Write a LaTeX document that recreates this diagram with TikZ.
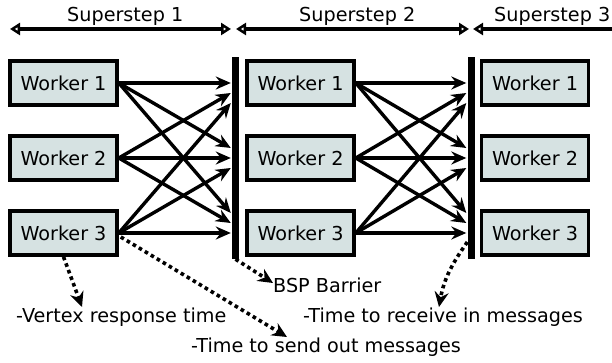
\documentclass[tikz,border=0pt]{standalone}
\usepackage{fontspec}
\setmainfont{DejaVu Sans}
\usetikzlibrary{arrows.meta,calc}
\definecolor{boxfill}{RGB}{214,226,226}
\begin{document}
\begin{tikzpicture}[x=1pt,y=1pt,
  worker/.style={draw=black, line width=3.6pt, fill=boxfill, minimum width=107pt, minimum height=44pt, inner sep=0pt, font=\fontsize{19.2}{23}\selectfont},
  barrier/.style={fill=black, minimum width=7pt, minimum height=202pt, inner sep=0pt},
  msg/.style={line width=3.4pt, -{Stealth[length=15pt,width=13pt,inset=5pt]}},
  ss/.style={line width=3.4pt, {Triangle[open,length=10pt,width=12pt]}-{Triangle[open,length=10pt,width=12pt]}},
  ssl/.style={line width=3.4pt, {Triangle[open,length=10pt,width=12pt]}-},
  lbl/.style={font=\fontsize{19.2}{23}\selectfont, inner sep=0pt, anchor=base west},
  dots/.style={line width=3.6pt, dash pattern=on 3.6pt off 3.4pt, -{Stealth[length=15pt,width=14pt,inset=5pt]}}
]
\useasboundingbox (0,0) rectangle (612,363);
% superstep arrows
\coordinate (s1a) at (10,334);
\coordinate (s1b) at (231,334);
\coordinate (s2a) at (236,334);
\coordinate (s2b) at (469,334);
\coordinate (s3a) at (473,334);
\coordinate (s3b) at (616,334);
\draw[ss] (s1a) -- (s1b);
\draw[ss] (s2a) -- (s2b);
\draw[ssl] (s3a) -- (s3b);
\node[lbl] (l1) at (67,341) {Superstep 1};
\node[lbl] (l2) at (299,341) {Superstep 2};
\node[lbl] (l3) at (494,341) {Superstep 3};
% workers
\foreach \r/\yy in {1/280,2/205,3/130}{
  \node[worker] (w\r1) at (63.5,\yy) {Worker \r};
  \node[worker] (w\r2) at (300.5,\yy) {Worker \r};
  \node[worker] (w\r3) at (535,\yy) {Worker \r};
}
% barriers
\node[barrier] (b1) at (235.5,205) {};
\node[barrier] (b2) at (471,205) {};
% messages
\foreach \s in {1,2,3}{
  \foreach \r in {1,2,3}{
    \draw[msg] (w\s1.east) -- ($(b1.west |- w\r1.east)+(-1,{(\r-\s)*10})$);
    \draw[msg] (w\s2.east) -- ($(b2.west |- w\r2.east)+(-1,{(\r-\s)*10})$);
  }
}
% bottom labels
\node[lbl] (t1) at (16,40) {-Vertex response time};
\node[lbl] (t2) at (191,10) {-Time to send out messages};
\node[lbl] (t3) at (303,40) {-Time to receive in messages};
\node[lbl] (t4) at (273,70) {BSP Barrier};
\coordinate (e1) at (82,56);
\coordinate (e2) at (287,26);
\coordinate (e3) at (273,80);
\coordinate (e4) at (439,56);
\draw[dots] (w31.south) -- (e1);
\draw[dots] ($(w31.east)+(2,-4)$) -- (e2);
\draw[dots] (b1.south) -- (e3);
\draw[dots] ($(b2.west)+(0,-84)$) to[out=-125,in=80] (e4);
\end{tikzpicture}
\end{document}
